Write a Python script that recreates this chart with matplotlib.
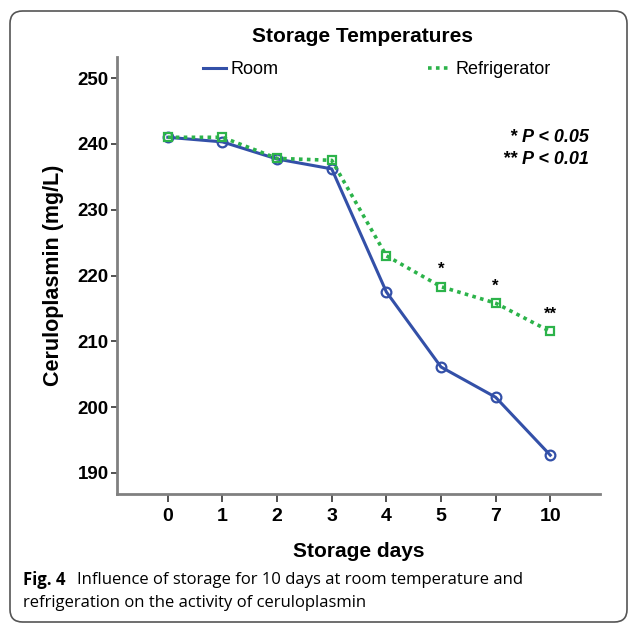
import numpy as np
import matplotlib.pyplot as plt
from matplotlib.lines import Line2D
from matplotlib.patches import FancyBboxPatch

days = ['0', '1', '2', '3', '4', '5', '7', '10']
room = [241.0, 240.3, 237.7, 236.2, 217.5, 206.1, 201.5, 192.7]
fridge = [241.0, 241.0, 237.8, 237.5, 223.0, 218.3, 215.8, 211.5]
stars = ['', '', '', '', '', '*', '*', '**']

sans = ['Liberation Sans', 'DejaVu Sans']
cap = ['Open Sans', 'DejaVu Sans']
blue = '#3350a8'
green = '#2cb34a'

fig = plt.figure(figsize=(6.30, 6.24), dpi=100)
ax = fig.add_axes([117/630, 1 - 494/624, (600 - 117)/630, (494 - 57)/624])

x = np.arange(len(days))
ax.plot(x, room, color=blue, lw=2.2, marker='o', ms=7, mfc='none', mew=1.6)
ax.plot(x, fridge, color=green, lw=2.6, ls=(0, (1, 1.2)), marker='s', ms=6,
        mfc='none', mew=1.6)
for i, s in enumerate(stars):
    if s:
        ax.annotate(s, (x[i], fridge[i]), xytext=(0, 7), textcoords='offset points',
                    ha='center', va='bottom', fontsize=12, fontweight='bold',
                    family=sans)

ax.set_xlim(-0.93, 7.91)
ax.set_ylim(186.8, 253.2)
ax.set_xticks(x)
ax.set_xticklabels(days)
ax.set_yticks(np.arange(190, 251, 10))
for lab in ax.get_xticklabels():
    lab.set_family(sans)
    lab.set_fontweight('bold')
    lab.set_fontsize(14)
for lab in ax.get_yticklabels():
    lab.set_family(sans)
    lab.set_fontweight('bold')
    lab.set_fontsize(13.5)
ax.tick_params(axis='x', direction='out', length=6, width=1.2, color='#333333', pad=4)
ax.tick_params(axis='y', direction='out', length=4, width=1.2, color='#333333', pad=2)
for side in ['top', 'right']:
    ax.spines[side].set_visible(False)
for side in ['left', 'bottom']:
    ax.spines[side].set_color('#808080')
    ax.spines[side].set_linewidth(2)

ax.set_ylabel('Ceruloplasmin (mg/L)', fontsize=15.5, fontweight='bold', family=sans,
              labelpad=10)
ax.set_xlabel('Storage days', fontsize=15, fontweight='bold', family=sans, labelpad=12)

fig.text(363/630, 1 - 37/624, 'Storage Temperatures', ha='center', va='center',
         fontsize=15, fontweight='bold', family=sans)

# two separate legend entries, spread out like the original
fig.legend([Line2D([], [], color=blue, lw=2.2)], ['Room'], frameon=False,
           loc='center left', bbox_to_anchor=(203/630, 1 - 70/624),
           prop={'family': sans, 'size': 13}, handlelength=1.3,
           handletextpad=0.2, borderpad=0, borderaxespad=0)
fig.legend([Line2D([], [], color=green, lw=2.6, ls=(0, (1, 1.2)))], ['Refrigerator'],
           frameon=False, loc='center left', bbox_to_anchor=(428/630, 1 - 70/624),
           prop={'family': sans, 'size': 13}, handlelength=1.3,
           handletextpad=0.2, borderpad=0, borderaxespad=0)

fig.text(589/630, 1 - 138/624, '* P < 0.05', ha='right', va='center',
         fontsize=13, fontweight='bold', style='italic', family=sans)
fig.text(589/630, 1 - 160/624, '** P < 0.01', ha='right', va='center',
         fontsize=13, fontweight='bold', style='italic', family=sans)

fig.text(23/630, 1 - 580/624, 'Fig. 4', ha='left', va='center', fontsize=12,
         fontweight='bold', family=cap)
fig.text(77/630, 1 - 580/624,
         'Influence of storage for 10 days at room temperature and',
         ha='left', va='center', fontsize=12, family=cap)
fig.text(23/630, 1 - 603/624,
         'refrigeration on the activity of ceruloplasmin',
         ha='left', va='center', fontsize=12, family=cap)

frame = FancyBboxPatch((10/630, 2/624), 617/630, 611/624,
                       boxstyle='round,pad=0,rounding_size=0.02',
                       transform=fig.transFigure, fill=False, ec='#555555', lw=1.2)
fig.patches.append(frame)

fig.savefig('out.png', dpi=100)
